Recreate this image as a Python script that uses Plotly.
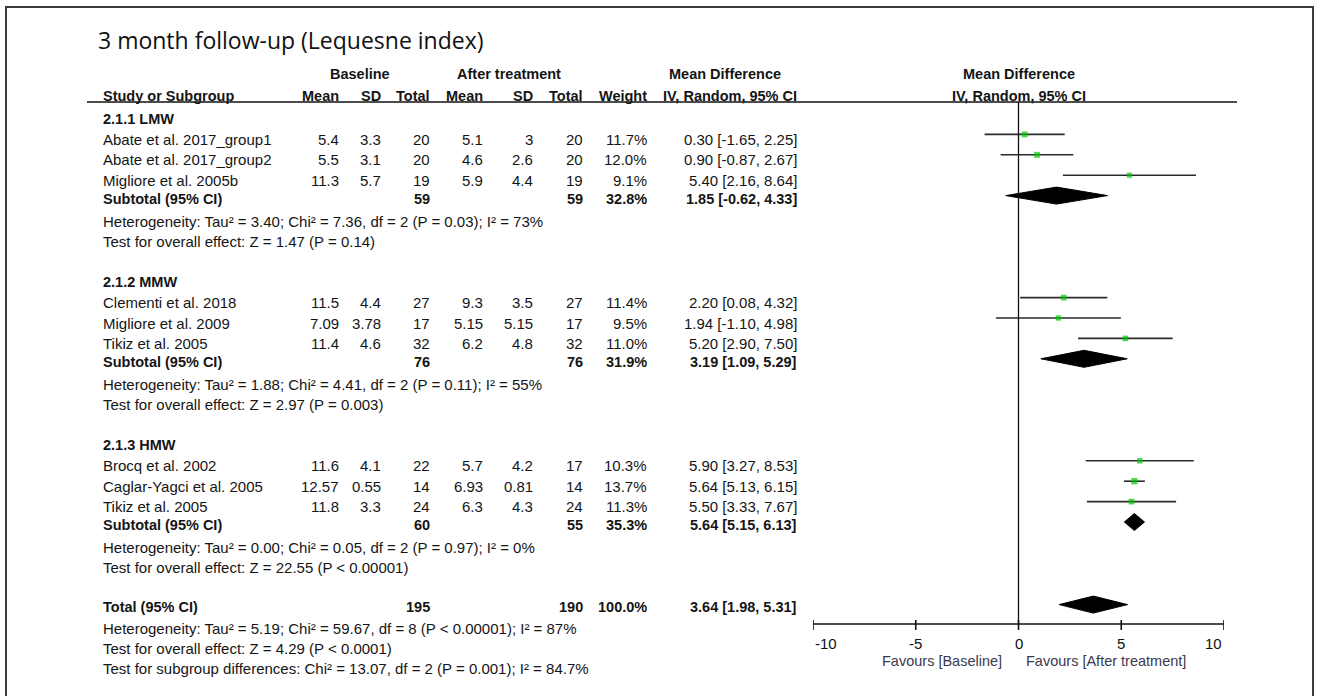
import plotly.graph_objects as go

# ---------------- data ----------------
group_names = ["2.1.1 LMW", "2.1.2 MMW", "2.1.3 HMW"]
group_of_study = [0, 0, 0, 1, 1, 1, 2, 2, 2]
studies = ["Abate et al. 2017_group1", "Abate et al. 2017_group2", "Migliore et al. 2005b",
           "Clementi et al. 2018", "Migliore et al. 2009", "Tikiz et al. 2005",
           "Brocq et al. 2002", "Caglar-Yagci et al. 2005", "Tikiz et al. 2005"]
base_mean = ["5.4", "5.5", "11.3", "11.5", "7.09", "11.4", "11.6", "12.57", "11.8"]
base_sd = ["3.3", "3.1", "5.7", "4.4", "3.78", "4.6", "4.1", "0.55", "3.3"]
base_n = [20, 20, 19, 27, 17, 32, 22, 14, 24]
after_mean = ["5.1", "4.6", "5.9", "9.3", "5.15", "6.2", "5.7", "6.93", "6.3"]
after_sd = ["3", "2.6", "4.4", "3.5", "5.15", "4.8", "4.2", "0.81", "4.3"]
after_n = [20, 20, 19, 27, 17, 32, 17, 14, 24]
weight = [11.7, 12.0, 9.1, 11.4, 9.5, 11.0, 10.3, 13.7, 11.3]
md = [0.30, 0.90, 5.40, 2.20, 1.94, 5.20, 5.90, 5.64, 5.50]
md_lo = [-1.65, -0.87, 2.16, 0.08, -1.10, 2.90, 3.27, 5.13, 3.33]
md_hi = [2.25, 2.67, 8.64, 4.32, 4.98, 7.50, 8.53, 6.15, 7.67]

sub_base_n = [59, 76, 60]
sub_after_n = [59, 76, 55]
sub_weight = [32.8, 31.9, 35.3]
sub_md = [1.85, 3.19, 5.64]
sub_lo = [-0.62, 1.09, 5.15]
sub_hi = [4.33, 5.29, 6.13]
sub_het = ["Heterogeneity: Tau² = 3.40; Chi² = 7.36, df = 2 (P = 0.03); I² = 73%",
           "Heterogeneity: Tau² = 1.88; Chi² = 4.41, df = 2 (P = 0.11); I² = 55%",
           "Heterogeneity: Tau² = 0.00; Chi² = 0.05, df = 2 (P = 0.97); I² = 0%"]
sub_z = ["Test for overall effect: Z = 1.47 (P = 0.14)",
         "Test for overall effect: Z = 2.97 (P = 0.003)",
         "Test for overall effect: Z = 22.55 (P < 0.00001)"]

tot_base_n = 195
tot_after_n = 190
tot_weight = 100.0
tot_md = 3.64
tot_lo = 1.98
tot_hi = 5.31
tot_notes = ["Heterogeneity: Tau² = 5.19; Chi² = 59.67, df = 8 (P < 0.00001); I² = 87%",
             "Test for overall effect: Z = 4.29 (P < 0.0001)",
             "Test for subgroup differences: Chi² = 13.07, df = 2 (P = 0.001); I² = 84.7%"]

title = "3 month follow-up (Lequesne index)"
axis_ticks = [-10, -5, 0, 5, 10]
favours = ["Favours [Baseline]", "Favours [After treatment]"]

# ---------------- layout constants ----------------
W, H = 1318, 696
ROW0, ROWH = 119, 20.4
MARK_OFF = -5
FONT = "Liberation Sans, Arial, sans-serif"
FS = 15
FSB = 14.5
TXT = "#151515"
X_NAME = 101
X_BM, X_BSD, X_BN = 341, 383, 432
X_AM, X_ASD, X_AN = 485, 535, 585
X_W, X_CI = 649, 799
X_BASE_HEAD, X_AFTER_HEAD, X_MD_HEAD = 360, 509, 725
PLOT_L, PLOT_R = 813, 1224
AXIS_Y = 624
HEAD_Y = 102

def ry(r):
    return ROW0 + ROWH * r

fig = go.Figure()
ann = []

def text(x, y, s, anchor="left", bold=False, size=None, color=TXT, font=FONT, xref="paper", xshift=0):
    if size is None:
        size = FSB if bold else FS
    ann.append(dict(x=x / W if xref == "paper" else x, y=y, xref=xref, yref="y",
                    text=f"<b>{s}</b>" if bold else s, showarrow=False,
                    xanchor=anchor, yanchor="middle", xshift=xshift,
                    font=dict(family=font, size=size, color=color)))

# title
text(96, 40, title, size=23, font="Open Sans, Noto Sans, sans-serif", color="#111")

# headers
text(X_BASE_HEAD, 74, "Baseline", anchor="center", bold=True)
text(X_AFTER_HEAD, 74, "After treatment", anchor="center", bold=True)
text(X_MD_HEAD, 74, "Mean Difference", anchor="center", bold=True)
text(0, 74, "Mean Difference", anchor="center", bold=True, xref="x")
text(X_NAME, 96, "Study or Subgroup", bold=True)
for xr, s in [(X_BM, "Mean"), (X_BSD, "SD"), (X_BN, "Total"), (X_AM, "Mean"),
              (X_ASD, "SD"), (X_AN, "Total"), (X_W, "Weight"), (X_CI, "IV, Random, 95% CI")]:
    text(xr, 96, s, anchor="right", bold=True)
text(0, 96, "IV, Random, 95% CI", anchor="center", bold=True, xref="x")

def ci_str(m, l, h):
    return f"{m:.2f} [{l:.2f}, {h:.2f}]"

shapes = []
row = 0
study_rows = []
sub_rows = []
for g, gname in enumerate(group_names):
    text(X_NAME, ry(row), gname, bold=True)
    row += 1
    for i, s in enumerate(studies):
        if group_of_study[i] != g:
            continue
        y = ry(row)
        text(X_NAME, y, s)
        text(X_BM, y, base_mean[i], "right")
        text(X_BSD, y, base_sd[i], "right")
        text(X_BN, y, str(base_n[i]), "right")
        text(X_AM, y, after_mean[i], "right")
        text(X_ASD, y, after_sd[i], "right")
        text(X_AN, y, str(after_n[i]), "right")
        text(X_W, y, f"{weight[i]:.1f}%", "right")
        text(X_CI, y, ci_str(md[i], md_lo[i], md_hi[i]), "right")
        study_rows.append((i, y))
        row += 1
    y = ry(row) - 2
    text(X_NAME, y, "Subtotal (95% CI)", bold=True)
    text(X_BN, y, str(sub_base_n[g]), "right", bold=True)
    text(X_AN, y, str(sub_after_n[g]), "right", bold=True)
    text(X_W, y, f"{sub_weight[g]:.1f}%", "right", bold=True)
    text(X_CI, y, ci_str(sub_md[g], sub_lo[g], sub_hi[g]), "right", bold=True)
    sub_rows.append((g, y))
    row += 1
    text(X_NAME, ry(row), sub_het[g]); row += 1
    text(X_NAME, ry(row), sub_z[g]); row += 1
    row += 1

y = ry(row) - 2
text(X_NAME, y, "Total (95% CI)", bold=True)
text(X_BN, y, str(tot_base_n), "right", bold=True)
text(X_AN, y, str(tot_after_n), "right", bold=True)
text(X_W, y, f"{tot_weight:.1f}%", "right", bold=True)
text(X_CI, y, ci_str(tot_md, tot_lo, tot_hi), "right", bold=True)
tot_y = y
row += 1
for note in tot_notes:
    text(X_NAME, ry(row) - 1, note); row += 1

# ---------------- forest plot ----------------
for i, y in study_rows:
    fig.add_trace(go.Scatter(x=[md_lo[i], md_hi[i]], y=[y + MARK_OFF] * 2, mode="lines",
                             line=dict(color="#2b2b2b", width=1.6), hoverinfo="skip"))
fig.add_trace(go.Scatter(x=[md[i] for i, _ in study_rows], y=[y + MARK_OFF for _, y in study_rows],
                         mode="markers",
                         marker=dict(symbol="square", color="#00c800",
                                     size=[3.0 + 0.24 * weight[i] for i, _ in study_rows],
                                     line=dict(width=0)), hoverinfo="skip"))

def diamond(m, l, h, yc, hh=8.5):
    fig.add_trace(go.Scatter(x=[l, m, h, m, l], y=[yc, yc - hh, yc, yc + hh, yc],
                             mode="lines", fill="toself", fillcolor="black",
                             line=dict(color="black", width=1), hoverinfo="skip"))

for g, y in sub_rows:
    diamond(sub_md[g], sub_lo[g], sub_hi[g], y - 3)
diamond(tot_md, tot_lo, tot_hi, tot_y - 2)

shapes.append(dict(type="line", xref="paper", yref="y", x0=87 / W, x1=1237 / W, y0=HEAD_Y, y1=HEAD_Y,
                   line=dict(color="#111", width=1.6)))
shapes.append(dict(type="line", xref="x", yref="y", x0=0, x1=0, y0=HEAD_Y, y1=AXIS_Y,
                   line=dict(color="#111", width=1.3)))
shapes.append(dict(type="line", xref="x", yref="y", x0=axis_ticks[0], x1=axis_ticks[-1],
                   y0=AXIS_Y, y1=AXIS_Y, line=dict(color="#111", width=1.6)))
for t in axis_ticks:
    shapes.append(dict(type="line", xref="x", yref="y", x0=t, x1=t, y0=AXIS_Y - 4, y1=AXIS_Y + 6,
                       line=dict(color="#111", width=1.6)))
    anc = "left" if t == axis_ticks[0] else ("right" if t == axis_ticks[-1] else "center")
    text(t, 643, f"{t}", anchor=anc, size=15, xref="x", color="#111")
text(0, 661, favours[0], anchor="right", xref="x", xshift=-15, color="#3a3a4e", size=14.5)
text(0, 661, favours[1], anchor="left", xref="x", xshift=5, color="#3a3a4e", size=14.5)

shapes.append(dict(type="rect", xref="paper", yref="y", x0=6 / W, x1=1313 / W, y0=7, y1=705,
                   line=dict(color="#3a3a3a", width=2), fillcolor="rgba(0,0,0,0)"))

fig.update_layout(
    width=W, height=H, margin=dict(l=0, r=0, t=0, b=0),
    paper_bgcolor="white", plot_bgcolor="white", showlegend=False,
    xaxis=dict(domain=[PLOT_L / W, PLOT_R / W], range=[axis_ticks[0], axis_ticks[-1]],
               visible=False, fixedrange=True),
    yaxis=dict(domain=[0, 1], range=[H, 0], visible=False, fixedrange=True),
    annotations=ann, shapes=shapes,
)
fig.write_html("out.html", config={"displayModeBar": False},
               post_script="document.body.style.margin='0';document.body.style.overflow='hidden';")
